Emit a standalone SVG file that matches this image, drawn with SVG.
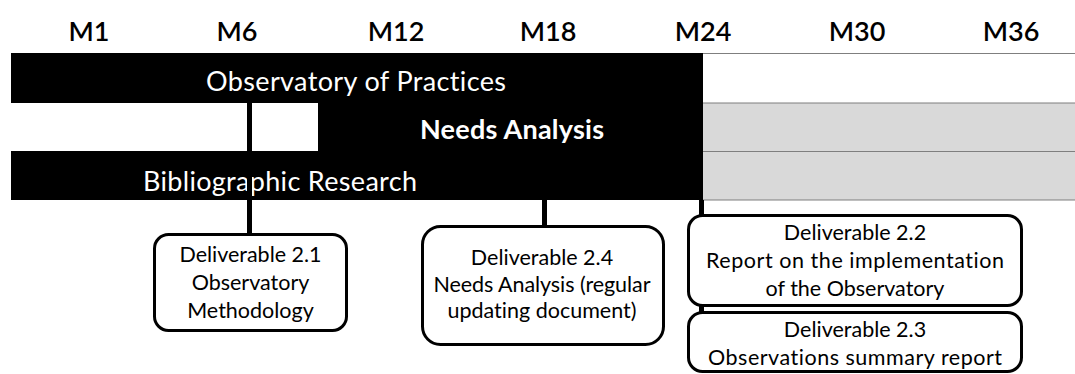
<svg xmlns="http://www.w3.org/2000/svg" width="1075" height="374" viewBox="0 0 1075 374">
<style>
text{font-variant-ligatures:none}
.hd{font-family:Lato,"Open Sans","Liberation Sans",sans-serif;font-size:27px;font-weight:600;fill:#000;text-anchor:middle}
.bar{font-family:Lato,"Open Sans","Liberation Sans",sans-serif;font-size:27px;fill:#fff;text-anchor:middle}
.bx{fill:#fff;stroke:#000;stroke-width:3}
.bt{font-family:Lato,"Open Sans","Liberation Sans",sans-serif;font-size:21.5px;fill:#000;text-anchor:middle}
.cn{stroke:#000;stroke-width:5;fill:none}
.grid{stroke:#7f7f7f;stroke-width:1.2;fill:none}
</style>
<rect width="1075" height="374" fill="#fff"/>
<g id="headings">
<text class="hd" x="89" y="41">M1</text>
<text class="hd" x="237" y="41">M6</text>
<text class="hd" x="396" y="41">M12</text>
<text class="hd" x="548" y="41">M18</text>
<text class="hd" x="703" y="41">M24</text>
<text class="hd" x="857" y="41">M30</text>
<text class="hd" x="1011" y="41">M36</text>
</g>
<g id="table">
<rect x="703" y="53" width="372" height="50" fill="#fff"/>
<rect x="703" y="103" width="372" height="97" fill="#d9d9d9"/>
<line class="grid" x1="11" y1="53.5" x2="1075" y2="53.5"/>
<line class="grid" x1="703" y1="103" x2="1075" y2="103"/>
<line class="grid" x1="703" y1="151.5" x2="1075" y2="151.5"/>
<line class="grid" x1="703" y1="200" x2="1075" y2="200"/>
</g>
<g id="observatory">
<rect x="11" y="53" width="692" height="50" fill="#000"/>
<text class="bar" x="356" y="91" textLength="300">Observatory of Practices</text>
</g>
<g id="needs">
<rect x="318" y="103" width="385" height="48" fill="#000"/>
<text class="bar" x="512" y="139" font-weight="bold" textLength="184">Needs Analysis</text>
</g>
<g id="biblio">
<rect x="11" y="151" width="692" height="49" fill="#000"/>
<text class="bar" x="280" y="191" textLength="274">Bibliographic Research</text>
</g>
<g id="connectors">
<line class="cn" x1="249.5" y1="103" x2="249.5" y2="234"/>
<line class="cn" x1="544.5" y1="200" x2="544.5" y2="226"/>
<line class="cn" x1="701.5" y1="200" x2="701.5" y2="215"/>
<line class="cn" x1="701.5" y1="306" x2="701.5" y2="313" stroke-width="3"/>
</g>
<g id="d21">
<rect class="bx" x="154.5" y="234.5" width="192" height="96" rx="14"/>
<text class="bt" x="250.5" y="262" textLength="142">Deliverable 2.1</text>
<text class="bt" x="250.5" y="290">Observatory</text>
<text class="bt" x="250.5" y="318">Methodology</text>
</g>
<g id="d24">
<rect class="bx" x="422.5" y="226.5" width="241" height="118" rx="18"/>
<text class="bt" x="542" y="265">Deliverable 2.4</text>
<text class="bt" x="542" y="292" textLength="217">Needs Analysis (regular</text>
<text class="bt" x="542" y="318">updating document)</text>
</g>
<g id="d22">
<rect class="bx" x="688.5" y="215.5" width="333" height="90" rx="14"/>
<text class="bt" x="855" y="240">Deliverable 2.2</text>
<text class="bt" x="855" y="268" textLength="298">Report on the implementation</text>
<text class="bt" x="855" y="296">of the Observatory</text>
</g>
<g id="d23">
<rect class="bx" x="688.5" y="312.5" width="333" height="59" rx="14"/>
<text class="bt" x="855" y="337">Deliverable 2.3</text>
<text class="bt" x="855" y="365" textLength="294">Observations summary report</text>
</g>
</svg>
